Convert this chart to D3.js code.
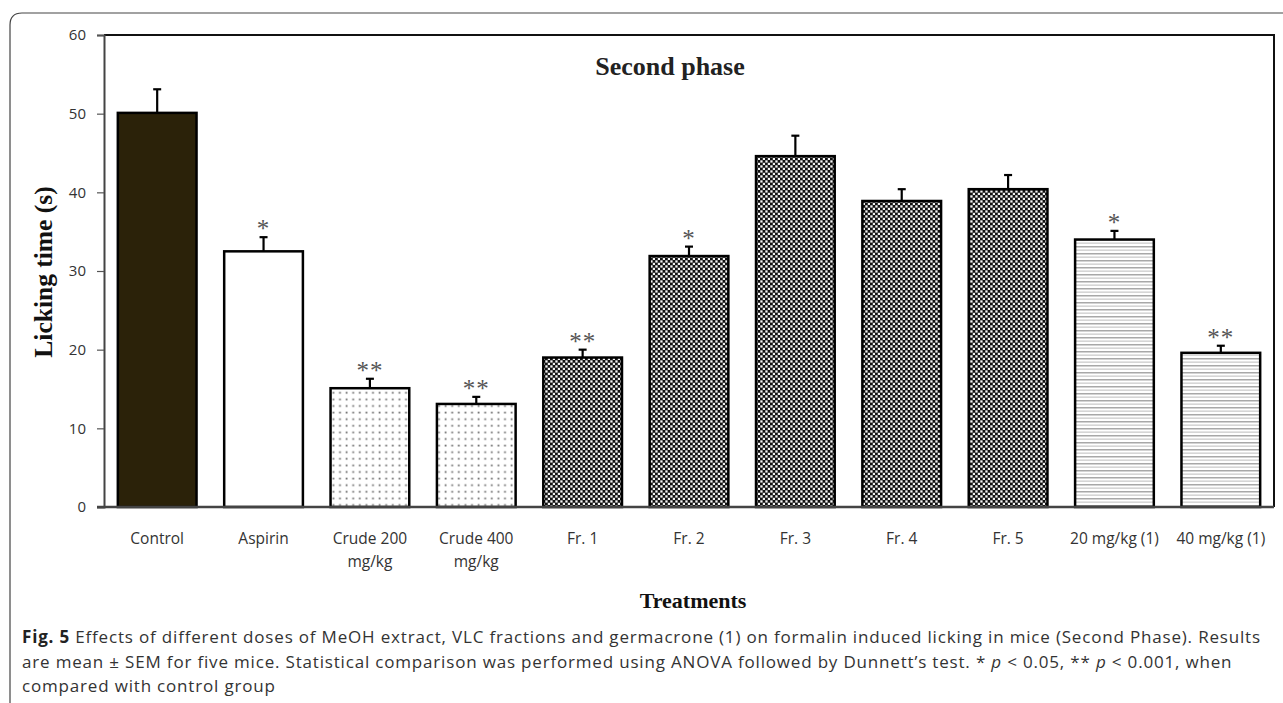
<!DOCTYPE html>
<html>
<head>
<meta charset="utf-8">
<script src="https://cdn.jsdelivr.net/npm/d3@7"></script>
<style>
  body { margin: 0; background: #fff; }
  svg { display: block; }
</style>
</head>
<body>
<div id="graph"></div>
<script>
// données
const treatments = ["Control", "Aspirin", "Crude 200 mg/kg", "Crude 400 mg/kg", "Fr. 1", "Fr. 2", "Fr. 3", "Fr. 4", "Fr. 5", "20 mg/kg (1)", "40 mg/kg (1)"];
const labelLines = [["Control"], ["Aspirin"], ["Crude 200", "mg/kg"], ["Crude 400", "mg/kg"], ["Fr. 1"], ["Fr. 2"], ["Fr. 3"], ["Fr. 4"], ["Fr. 5"], ["20 mg/kg (1)"], ["40 mg/kg (1)"]];
const means = [50.1, 32.5, 15.1, 13.1, 19.0, 31.9, 44.6, 38.9, 40.4, 34.0, 19.6];
const sem = [3.0, 1.8, 1.2, 0.9, 1.0, 1.2, 2.6, 1.5, 1.8, 1.1, 0.9];
const signif = ["", "*", "**", "**", "**", "*", "", "", "", "*", "**"];
const fills = ["solid", "white", "dots", "dots", "checker", "checker", "checker", "checker", "checker", "stripes", "stripes"];
const yTicks = [0, 10, 20, 30, 40, 50, 60];

const width = 1283;
const height = 703;
const margin = { top: 35, right: 9, bottom: 196, left: 104 };

const svg = d3.select("#graph").append("svg")
    .attr("width", width)
    .attr("height", height);

// motifs de remplissage
const defs = svg.append("defs");

const pDots = defs.append("pattern").attr("id", "dots")
    .attr("patternUnits", "userSpaceOnUse").attr("width", 6.6).attr("height", 6.6);
pDots.append("rect").attr("width", 6.6).attr("height", 6.6).attr("fill", "#fff");
pDots.append("rect").attr("x", 2.5).attr("y", 2.5).attr("width", 1.8).attr("height", 1.8).attr("fill", "#777");

const pChk = defs.append("pattern").attr("id", "checker")
    .attr("patternUnits", "userSpaceOnUse").attr("width", 5).attr("height", 5);
pChk.append("rect").attr("width", 5).attr("height", 5).attr("fill", "#111");
pChk.append("rect").attr("x", 0.3).attr("y", 0.3).attr("width", 2.3).attr("height", 2.3).attr("fill", "#f4f4f4");
pChk.append("rect").attr("x", 2.8).attr("y", 2.8).attr("width", 2.3).attr("height", 2.3).attr("fill", "#f4f4f4");

const pStr = defs.append("pattern").attr("id", "stripes")
    .attr("patternUnits", "userSpaceOnUse").attr("width", 8).attr("height", 7);
pStr.append("rect").attr("width", 8).attr("height", 7).attr("fill", "#fff");
pStr.append("rect").attr("y", 1).attr("width", 8).attr("height", 1.5).attr("fill", "#a8a8a8");
pStr.append("rect").attr("y", 4.5).attr("width", 8).attr("height", 1.3).attr("fill", "#cccccc");

function fillOf(f) {
    if (f === "solid") return "#2b2209";
    if (f === "white") return "#fff";
    return `url(#${f})`;
}

// cadre de la figure (coin arrondi)
svg.append("path")
    .attr("d", `M10,${height} V25 Q10,13 22,13 H${width}`)
    .attr("fill", "none")
    .attr("stroke", "#444")
    .attr("stroke-width", 1.2);

const x = d3.scaleBand()
    .domain(treatments)
    .range([margin.left, width - margin.right])
    .paddingInner(0.26)
    .paddingOuter(0.13);

const y = d3.scaleLinear()
    .domain([0, 60])
    .range([height - margin.bottom, margin.top]);

// bordure haut / droite
svg.append("path")
    .attr("d", `M${margin.left},${y(60)} H${width - margin.right} V${y(0)}`)
    .attr("fill", "none")
    .attr("stroke", "#111")
    .attr("stroke-width", 2);

// barres
svg.selectAll(".bar")
    .data(treatments)
    .enter()
    .append("rect")
    .attr("class", "bar")
    .attr("x", d => x(d))
    .attr("width", x.bandwidth())
    .attr("y", (d, i) => y(means[i]))
    .attr("height", (d, i) => y(0) - y(means[i]))
    .attr("fill", (d, i) => fillOf(fills[i]))
    .attr("stroke", "#000")
    .attr("stroke-width", 2.5);

// barres d'erreur (haut seulement)
const err = svg.append("g").attr("stroke", "#000").attr("stroke-width", 2.2);
treatments.forEach((t, i) => {
    const cx = x(t) + x.bandwidth() / 2;
    err.append("line")
        .attr("x1", cx).attr("x2", cx)
        .attr("y1", y(means[i])).attr("y2", y(means[i] + sem[i]));
    err.append("line")
        .attr("x1", cx - 4).attr("x2", cx + 4)
        .attr("y1", y(means[i] + sem[i])).attr("y2", y(means[i] + sem[i]));
});

// astérisques
svg.selectAll(".star")
    .data(treatments)
    .enter()
    .append("text")
    .attr("class", "star")
    .attr("x", d => x(d) + x.bandwidth() / 2)
    .attr("y", (d, i) => y(means[i] + sem[i]))
    .attr("text-anchor", "middle")
    .attr("font-family", "Liberation Serif, serif")
    .attr("font-size", "25px")
    .attr("fill", "#555")
    .attr("letter-spacing", "1px")
    .text((d, i) => signif[i]);

// axe Y
const yAxis = svg.append("g")
    .attr("transform", `translate(${margin.left},0)`)
    .call(d3.axisLeft(y).tickValues(yTicks).tickSize(7).tickPadding(11));
yAxis.select(".domain").attr("stroke", "#444").attr("stroke-width", 2);
yAxis.selectAll(".tick line").attr("stroke", "#555").attr("stroke-width", 1.2);
yAxis.selectAll(".tick text")
    .attr("font-family", "Open Sans, sans-serif")
    .attr("font-size", "15px")
    .attr("fill", "#333");

// axe X (ligne de base)
svg.append("line")
    .attr("x1", margin.left - 7).attr("x2", width - margin.right)
    .attr("y1", y(0)).attr("y2", y(0))
    .attr("stroke", "#444")
    .attr("stroke-width", 2.5);

// étiquettes des catégories
const xl = svg.append("g")
    .attr("font-family", "Open Sans, sans-serif")
    .attr("font-size", "15.5px")
    .attr("fill", "#333")
    .attr("text-anchor", "middle");
treatments.forEach((t, i) => {
    const txt = xl.append("text")
        .attr("x", x(t) + x.bandwidth() / 2)
        .attr("y", y(0) + 37);
    labelLines[i].forEach((ln, j) => {
        txt.append("tspan")
            .attr("x", x(t) + x.bandwidth() / 2)
            .attr("dy", j === 0 ? 0 : 23)
            .text(ln);
    });
});

// titres
svg.append("text")
    .attr("x", 670)
    .attr("y", 75)
    .attr("text-anchor", "middle")
    .attr("font-family", "Liberation Serif, serif")
    .attr("font-weight", "bold")
    .attr("font-size", "26px")
    .attr("fill", "#222")
    .text("Second phase");

svg.append("text")
    .attr("transform", `translate(52,272) rotate(-90)`)
    .attr("text-anchor", "middle")
    .attr("font-family", "Liberation Serif, serif")
    .attr("font-weight", "bold")
    .attr("font-size", "25.5px")
    .attr("fill", "#111")
    .text("Licking time (s)");

svg.append("text")
    .attr("x", 693)
    .attr("y", 608)
    .attr("text-anchor", "middle")
    .attr("font-family", "Liberation Serif, serif")
    .attr("font-weight", "bold")
    .attr("font-size", "22px")
    .attr("fill", "#111")
    .text("Treatments");

// légende de la figure
const cap = svg.append("g")
    .attr("font-family", "Open Sans, sans-serif")
    .attr("font-size", "17px")
    .attr("letter-spacing", "0.82px")
    .attr("fill", "#333");

const l1 = cap.append("text").attr("x", 22).attr("y", 643);
l1.append("tspan").attr("font-weight", "bold").attr("fill", "#222").text("Fig. 5");
l1.append("tspan").text(" Effects of different doses of MeOH extract, VLC fractions and germacrone (1) on formalin induced licking in mice (Second Phase). Results");

const l2 = cap.append("text").attr("x", 22).attr("y", 668);
l2.append("tspan").text("are mean ± SEM for five mice. Statistical comparison was performed using ANOVA followed by Dunnett’s test. * ");
l2.append("tspan").attr("font-style", "italic").text("p");
l2.append("tspan").text(" < 0.05, ** ");
l2.append("tspan").attr("font-style", "italic").text("p");
l2.append("tspan").text(" < 0.001, when");

cap.append("text").attr("x", 22).attr("y", 692).text("compared with control group");
</script>
</body>
</html>
